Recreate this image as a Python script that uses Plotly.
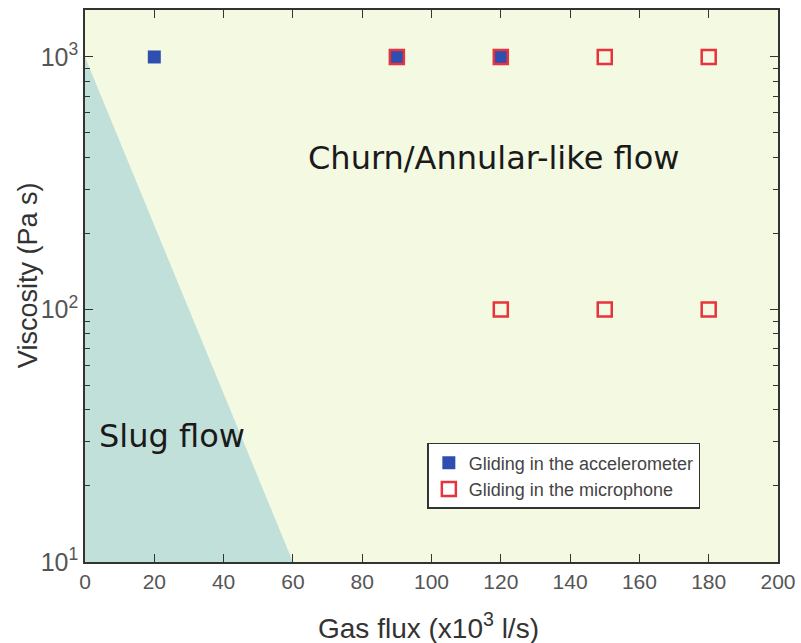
import plotly.graph_objects as go

# Regime boundary (gas flux, viscosity)
slug_x = [0, 0, 60]
slug_y = [10, 1000, 10]

# Observations
accel_flux = [20, 90, 120]
accel_visc = [1000, 1000, 1000]
micro_flux = [90, 120, 150, 180, 120, 150, 180]
micro_visc = [1000, 1000, 1000, 1000, 100, 100, 100]

BG = "#f4f9e2"
SLUG = "#c2e0da"
BLUE = "#2f4fb0"
RED = "#e8323c"

fig = go.Figure()

fig.add_trace(go.Scatter(
    x=slug_x, y=slug_y, fill="toself", fillcolor=SLUG,
    line=dict(width=0), mode="lines", hoverinfo="skip", showlegend=False))

fig.add_trace(go.Scatter(
    x=accel_flux, y=accel_visc, mode="markers",
    name="Gliding in the accelerometer",
    marker=dict(symbol="square", size=13, color=BLUE, line=dict(width=0))))

fig.add_trace(go.Scatter(
    x=micro_flux, y=micro_visc, mode="markers",
    name="Gliding in the microphone",
    marker=dict(symbol="square-open", size=14, color=RED, line=dict(width=2.5))))

label_font = dict(family="DejaVu Sans, Verdana, sans-serif", size=32, color="#1a1a1a")
fig.add_annotation(x=118, y=2.6, xref="x", yref="y", text="Churn/Annular-like flow",
                   showarrow=False, font=label_font)
fig.add_annotation(x=25, y=1.5, xref="x", yref="y", text="Slug flow",
                   showarrow=False, font=label_font)

# Axis titles
fig.add_annotation(x=0.495, y=-0.116, xref="paper", yref="paper",
                   text="Gas flux (x10<sup>3</sup> l/s)", showarrow=False,
                   font=dict(size=28, color="#333"), xanchor="center", yanchor="middle")
fig.add_annotation(x=-0.082, y=0.52, xref="paper", yref="paper",
                   text="Viscosity (Pa s)", showarrow=False, textangle=-90,
                   font=dict(size=27, color="#333"), xanchor="center", yanchor="middle")

axis_common = dict(showline=True, linecolor="#333", linewidth=1.5, mirror="ticks",
                   ticks="inside", tickcolor="#333", ticklen=8, showgrid=False,
                   zeroline=False, automargin=False)

fig.update_xaxes(range=[0, 200], dtick=20, tickfont=dict(size=21, color="#555"),
                 **axis_common)
fig.update_yaxes(type="log", range=[1, 3.186], tickvals=[10, 100, 1000],
                 ticktext=["10<sup>1</sup>", "10<sup>2</sup>", "10<sup>3</sup>"],
                 tickfont=dict(size=25, color="#555"),
                 minor=dict(ticks="inside", ticklen=5, tickcolor="#333",
                            tickvals=[20, 30, 40, 50, 60, 70, 80, 90,
                                      200, 300, 400, 500, 600, 700, 800, 900]),
                 **axis_common)

fig.update_layout(
    width=801, height=643,
    margin=dict(l=85, r=23, t=10, b=81),
    paper_bgcolor="white", plot_bgcolor=BG,
    font=dict(family="Liberation Sans, Arial, sans-serif"),
    legend=dict(x=0.494, y=0.2156, xanchor="left", yanchor="top",
                bgcolor="white", bordercolor="#333", borderwidth=1.5,
                font=dict(size=18, color="#444"), tracegroupgap=2),
)

fig.write_html("out.html")
